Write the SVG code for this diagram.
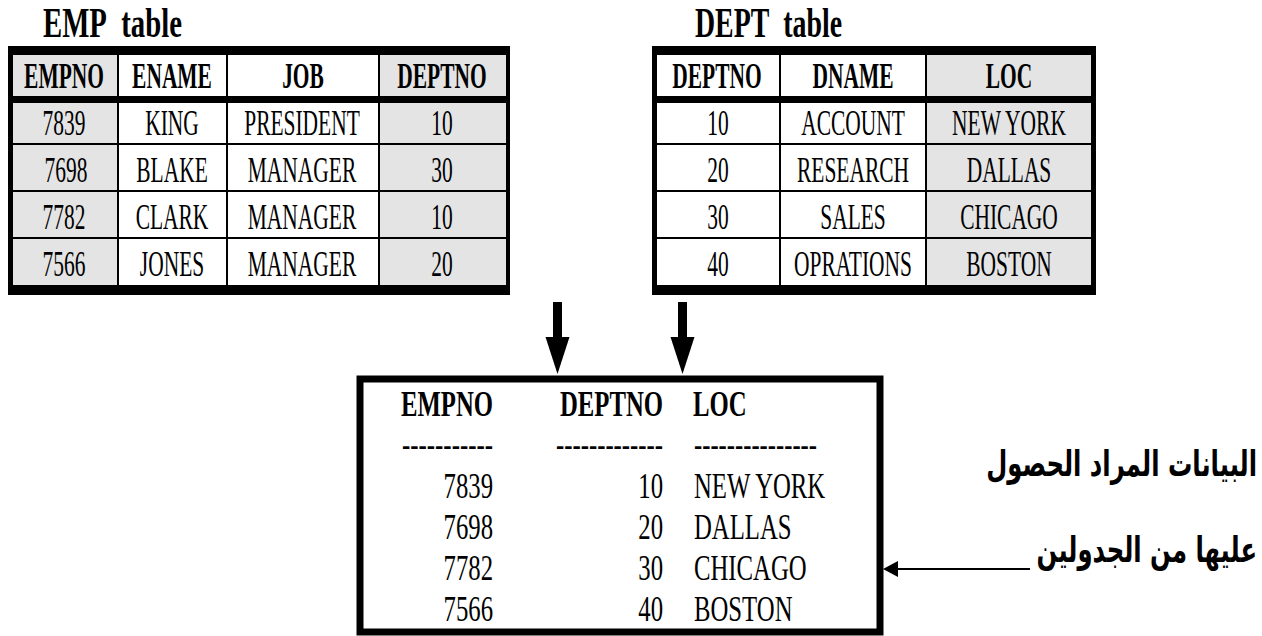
<svg xmlns="http://www.w3.org/2000/svg" width="1262" height="636" viewBox="0 0 1262 636">
<style>
  .frame { fill: #000; }
  .g { fill: #e4e4e4; }
  .w { fill: #fff; }
  .t { font-family: "Liberation Serif", "Times New Roman", serif; font-size: 35px; fill: #000; }
  .h { font-weight: bold; }
  .c { text-anchor: middle; }
  .e { text-anchor: end; }
  .title { font-family: "Liberation Serif", "Times New Roman", serif; font-size: 42px; font-weight: bold; fill: #000; }
  .ar { font-family: "DejaVu Sans", sans-serif; font-size: 36px; font-weight: bold; fill: #000; text-anchor: end; }
  .shaft { stroke: #000; stroke-width: 9; fill: none; }
  .thin { stroke: #000; stroke-width: 2; fill: none; }
</style>
<defs>
  <marker id="bigHead" viewBox="0 -13 38 26" refX="0" refY="0" markerUnits="userSpaceOnUse" markerWidth="38" markerHeight="26" orient="auto">
    <path d="M0,-12 L37,0 L0,12 Z" fill="#000"/>
  </marker>
  <marker id="smallHead" viewBox="0 -9 16 18" refX="0" refY="0" markerUnits="userSpaceOnUse" markerWidth="16" markerHeight="18" orient="auto">
    <path d="M0,-8 L15,0 L0,8 Z" fill="#000"/>
  </marker>
</defs>
<rect width="1262" height="636" fill="#fff"/>

<g id="emp-table">
  <text class="title" x="43" y="37" textLength="139" lengthAdjust="spacingAndGlyphs">EMP&#160; table</text>
  <rect class="frame" x="8" y="46" width="502" height="249"/>
  <rect class="g" x="13" y="55" width="104" height="41"/>
  <rect class="w" x="119" y="55" width="107" height="41"/>
  <rect class="w" x="228" y="55" width="150" height="41"/>
  <rect class="g" x="380" y="55" width="126" height="41"/>
  <rect class="g" x="13" y="103" width="104" height="40"/>
  <rect class="w" x="119" y="103" width="107" height="40"/>
  <rect class="w" x="228" y="103" width="150" height="40"/>
  <rect class="g" x="380" y="103" width="126" height="40"/>
  <rect class="g" x="13" y="145" width="104" height="45"/>
  <rect class="w" x="119" y="145" width="107" height="45"/>
  <rect class="w" x="228" y="145" width="150" height="45"/>
  <rect class="g" x="380" y="145" width="126" height="45"/>
  <rect class="g" x="13" y="192" width="104" height="45"/>
  <rect class="w" x="119" y="192" width="107" height="45"/>
  <rect class="w" x="228" y="192" width="150" height="45"/>
  <rect class="g" x="380" y="192" width="126" height="45"/>
  <rect class="g" x="13" y="239" width="104" height="46"/>
  <rect class="w" x="119" y="239" width="107" height="46"/>
  <rect class="w" x="228" y="239" width="150" height="46"/>
  <rect class="g" x="380" y="239" width="126" height="46"/>
  <text class="t h c" transform="translate(64,88) scale(0.613,1)">EMPNO</text>
  <text class="t h c" transform="translate(172,88) scale(0.613,1)">ENAME</text>
  <text class="t h c" transform="translate(303,88) scale(0.613,1)">JOB</text>
  <text class="t h c" transform="translate(442,88) scale(0.613,1)">DEPTNO</text>
  <text class="t c" transform="translate(64,135) scale(0.613,1)">7839</text>
  <text class="t c" transform="translate(172,135) scale(0.613,1)">KING</text>
  <text class="t c" transform="translate(302,135) scale(0.613,1)">PRESIDENT</text>
  <text class="t c" transform="translate(442,135) scale(0.613,1)">10</text>
  <text class="t c" transform="translate(66,182) scale(0.613,1)">7698</text>
  <text class="t c" transform="translate(172,182) scale(0.613,1)">BLAKE</text>
  <text class="t c" transform="translate(302,182) scale(0.613,1)">MANAGER</text>
  <text class="t c" transform="translate(442,182) scale(0.613,1)">30</text>
  <text class="t c" transform="translate(64,229) scale(0.613,1)">7782</text>
  <text class="t c" transform="translate(172,229) scale(0.613,1)">CLARK</text>
  <text class="t c" transform="translate(302,229) scale(0.613,1)">MANAGER</text>
  <text class="t c" transform="translate(442,229) scale(0.613,1)">10</text>
  <text class="t c" transform="translate(64,276) scale(0.613,1)">7566</text>
  <text class="t c" transform="translate(172,276) scale(0.613,1)">JONES</text>
  <text class="t c" transform="translate(302,276) scale(0.613,1)">MANAGER</text>
  <text class="t c" transform="translate(442,276) scale(0.613,1)">20</text>
</g>

<g id="dept-table">
  <text class="title" x="695" y="37" textLength="147" lengthAdjust="spacingAndGlyphs">DEPT&#160; table</text>
  <rect class="frame" x="652" y="46" width="444" height="249"/>
  <rect class="w" x="657" y="55" width="122" height="41"/>
  <rect class="w" x="781" y="55" width="144" height="41"/>
  <rect class="g" x="927" y="55" width="164" height="41"/>
  <rect class="w" x="657" y="103" width="122" height="40"/>
  <rect class="w" x="781" y="103" width="144" height="40"/>
  <rect class="g" x="927" y="103" width="164" height="40"/>
  <rect class="w" x="657" y="145" width="122" height="45"/>
  <rect class="w" x="781" y="145" width="144" height="45"/>
  <rect class="g" x="927" y="145" width="164" height="45"/>
  <rect class="w" x="657" y="192" width="122" height="45"/>
  <rect class="w" x="781" y="192" width="144" height="45"/>
  <rect class="g" x="927" y="192" width="164" height="45"/>
  <rect class="w" x="657" y="239" width="122" height="46"/>
  <rect class="w" x="781" y="239" width="144" height="46"/>
  <rect class="g" x="927" y="239" width="164" height="46"/>
  <text class="t h c" transform="translate(717,88) scale(0.613,1)">DEPTNO</text>
  <text class="t h c" transform="translate(853,88) scale(0.613,1)">DNAME</text>
  <text class="t h c" transform="translate(1009,88) scale(0.613,1)">LOC</text>
  <text class="t c" transform="translate(718,135) scale(0.613,1)">10</text>
  <text class="t c" transform="translate(853,135) scale(0.613,1)">ACCOUNT</text>
  <text class="t c" transform="translate(1009,135) scale(0.613,1)">NEW YORK</text>
  <text class="t c" transform="translate(718,182) scale(0.613,1)">20</text>
  <text class="t c" transform="translate(853,182) scale(0.613,1)">RESEARCH</text>
  <text class="t c" transform="translate(1009,182) scale(0.613,1)">DALLAS</text>
  <text class="t c" transform="translate(718,229) scale(0.613,1)">30</text>
  <text class="t c" transform="translate(853,229) scale(0.613,1)">SALES</text>
  <text class="t c" transform="translate(1009,229) scale(0.613,1)">CHICAGO</text>
  <text class="t c" transform="translate(718,276) scale(0.613,1)">40</text>
  <text class="t c" transform="translate(853,276) scale(0.613,1)">OPRATIONS</text>
  <text class="t c" transform="translate(1009,276) scale(0.613,1)">BOSTON</text>
</g>

<g id="result-box">
  <rect x="360" y="379" width="520" height="253" fill="#fff" stroke="#000" stroke-width="7"/>
  <text class="t h e" transform="translate(493,416) scale(0.707,1)">EMPNO</text>
  <text class="t h e" transform="translate(663,416) scale(0.707,1)">DEPTNO</text>
  <text class="t h" transform="translate(693,416) scale(0.707,1)">LOC</text>
  <text class="t" x="402" y="456" textLength="91" lengthAdjust="spacingAndGlyphs">-----------</text>
  <text class="t" x="556" y="456" textLength="107" lengthAdjust="spacingAndGlyphs">-------------</text>
  <text class="t" x="694" y="456" textLength="123" lengthAdjust="spacingAndGlyphs">---------------</text>
  <text class="t e" transform="translate(493,498) scale(0.707,1)">7839</text>
  <text class="t e" transform="translate(663,498) scale(0.707,1)">10</text>
  <text class="t" transform="translate(694,498) scale(0.707,1)">NEW YORK</text>
  <text class="t e" transform="translate(493,539) scale(0.707,1)">7698</text>
  <text class="t e" transform="translate(663,539) scale(0.707,1)">20</text>
  <text class="t" transform="translate(694,539) scale(0.707,1)">DALLAS</text>
  <text class="t e" transform="translate(493,580) scale(0.707,1)">7782</text>
  <text class="t e" transform="translate(663,580) scale(0.707,1)">30</text>
  <text class="t" transform="translate(694,580) scale(0.707,1)">CHICAGO</text>
  <text class="t e" transform="translate(493,621) scale(0.707,1)">7566</text>
  <text class="t e" transform="translate(663,621) scale(0.707,1)">40</text>
  <text class="t" transform="translate(694,621) scale(0.707,1)">BOSTON</text>
</g>

<g id="note">
  <text class="ar" transform="translate(1257,476) scale(0.675,1)">البيانات المراد الحصول</text>
  <text class="ar" transform="translate(1257,562) scale(0.675,1)">عليها من الجدولين</text>
</g>

<g id="connectors">
  <path class="shaft" d="M557.5,302 L557.5,337" marker-end="url(#bigHead)"/>
  <path class="shaft" d="M682.5,302 L682.5,337" marker-end="url(#bigHead)"/>
  <path class="thin" d="M1030,569 L898,569" marker-end="url(#smallHead)"/>
</g>
</svg>
